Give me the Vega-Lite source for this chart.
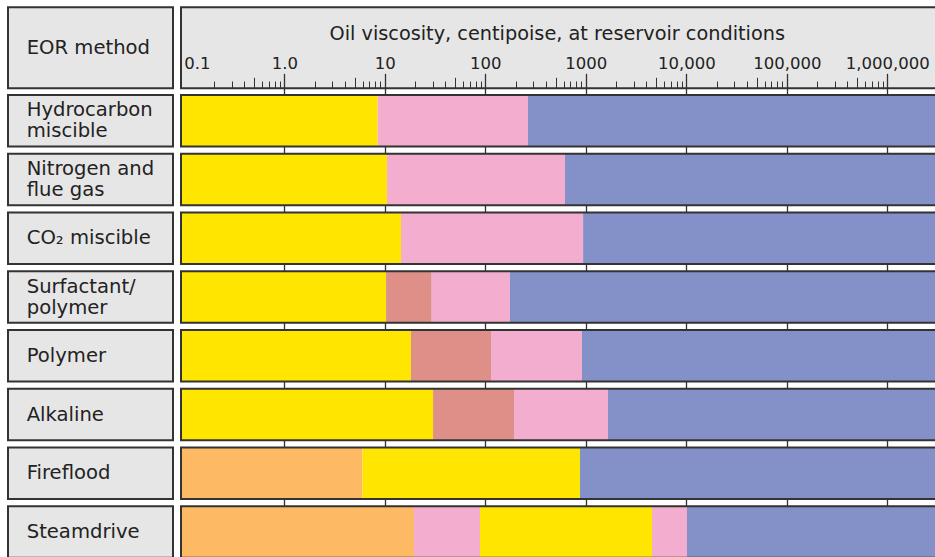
{
  "$schema": "https://vega.github.io/schema/vega-lite/v6.json",
  "width": 935,
  "height": 557,
  "autosize": {"type": "none"},
  "padding": 0,
  "background": "white",
  "config": {
    "view": {"stroke": null},
    "text": {"font": "DejaVu Sans", "color": "#222222"},
    "axis": {"labelFont": "DejaVu Sans"}
  },
  "datasets": {
    "header": [
      {"section": "header", "left": "EOR method", "title": "Oil viscosity, centipoise, at reservoir conditions"}
    ],
    "methods": [
      {"method": "Hydrocarbon miscible", "label": "Hydrocarbon\nmiscible", "lines": 2},
      {"method": "Nitrogen and flue gas", "label": "Nitrogen and\nflue gas", "lines": 2},
      {"method": "CO2 miscible", "label": "CO₂ miscible", "lines": 1},
      {"method": "Surfactant/polymer", "label": "Surfactant/\npolymer", "lines": 2},
      {"method": "Polymer", "label": "Polymer", "lines": 1},
      {"method": "Alkaline", "label": "Alkaline", "lines": 1},
      {"method": "Fireflood", "label": "Fireflood", "lines": 1},
      {"method": "Steamdrive", "label": "Steamdrive", "lines": 1}
    ],
    "segments": [
      {"method": "Hydrocarbon miscible", "start": 0.0938, "end": 8.5, "rating": "Preferred"},
      {"method": "Hydrocarbon miscible", "start": 8.5, "end": 266, "rating": "More difficult"},
      {"method": "Hydrocarbon miscible", "start": 266, "end": 100000000, "rating": "Not feasible"},
      {"method": "Nitrogen and flue gas", "start": 0.0938, "end": 10.5, "rating": "Preferred"},
      {"method": "Nitrogen and flue gas", "start": 10.5, "end": 621, "rating": "More difficult"},
      {"method": "Nitrogen and flue gas", "start": 621, "end": 100000000, "rating": "Not feasible"},
      {"method": "CO2 miscible", "start": 0.0938, "end": 14.5, "rating": "Preferred"},
      {"method": "CO2 miscible", "start": 14.5, "end": 940, "rating": "More difficult"},
      {"method": "CO2 miscible", "start": 940, "end": 100000000, "rating": "Not feasible"},
      {"method": "Surfactant/polymer", "start": 0.0938, "end": 10.3, "rating": "Preferred"},
      {"method": "Surfactant/polymer", "start": 10.3, "end": 29.3, "rating": "Good"},
      {"method": "Surfactant/polymer", "start": 29.3, "end": 176, "rating": "More difficult"},
      {"method": "Surfactant/polymer", "start": 176, "end": 100000000, "rating": "Not feasible"},
      {"method": "Polymer", "start": 0.0938, "end": 18.2, "rating": "Preferred"},
      {"method": "Polymer", "start": 18.2, "end": 114, "rating": "Good"},
      {"method": "Polymer", "start": 114, "end": 916, "rating": "More difficult"},
      {"method": "Polymer", "start": 916, "end": 100000000, "rating": "Not feasible"},
      {"method": "Alkaline", "start": 0.0938, "end": 30.2, "rating": "Preferred"},
      {"method": "Alkaline", "start": 30.2, "end": 193, "rating": "Good"},
      {"method": "Alkaline", "start": 193, "end": 1663, "rating": "More difficult"},
      {"method": "Alkaline", "start": 1663, "end": 100000000, "rating": "Not feasible"},
      {"method": "Fireflood", "start": 0.0938, "end": 6.0, "rating": "Not required"},
      {"method": "Fireflood", "start": 6.0, "end": 875, "rating": "Preferred"},
      {"method": "Fireflood", "start": 875, "end": 100000000, "rating": "Not feasible"},
      {"method": "Steamdrive", "start": 0.0938, "end": 19.5, "rating": "Not required"},
      {"method": "Steamdrive", "start": 19.5, "end": 88.6, "rating": "More difficult"},
      {"method": "Steamdrive", "start": 88.6, "end": 4560, "rating": "Preferred"},
      {"method": "Steamdrive", "start": 4560, "end": 10160, "rating": "More difficult"},
      {"method": "Steamdrive", "start": 10160, "end": 100000000, "rating": "Not feasible"}
    ]
  },
  "resolve": {
    "scale": {"x": "independent", "y": "independent", "color": "independent"},
    "axis": {"x": "independent", "y": "independent"}
  },
  "layer": [
    {
      "data": {"name": "header"},
      "layer": [
        {
          "mark": {"type": "rect", "fill": "#e6e6e6", "stroke": "#333333", "strokeWidth": 2},
          "encoding": {
            "x": {"datum": 0, "type": "quantitative", "scale": {"domain": [0, 1], "range": [8, 173]}, "axis": null},
            "x2": {"datum": 1},
            "y": {"field": "section", "type": "nominal", "scale": {"domain": ["header"], "range": [7.3, 88.3], "paddingInner": 0, "paddingOuter": 0}, "axis": null}
          }
        },
        {
          "mark": {"type": "text", "align": "left", "baseline": "middle", "dx": 18.7, "fontSize": 19.6},
          "encoding": {
            "x": {"datum": 0, "type": "quantitative"},
            "y": {"field": "section", "type": "nominal"},
            "text": {"field": "left"}
          }
        }
      ]
    },
    {
      "data": {"name": "methods"},
      "layer": [
        {
          "mark": {"type": "rect", "fill": "#e6e6e6", "stroke": "#333333", "strokeWidth": 2},
          "encoding": {
            "x": {"datum": 0, "type": "quantitative", "scale": {"domain": [0, 1], "range": [8, 173]}, "axis": null},
            "x2": {"datum": 1},
            "y": {
              "field": "method", "type": "nominal",
              "scale": {
                "domain": ["Hydrocarbon miscible", "Nitrogen and flue gas", "CO2 miscible", "Surfactant/polymer", "Polymer", "Alkaline", "Fireflood", "Steamdrive"],
                "range": [95, 557.82], "paddingInner": 0.12355, "paddingOuter": 0
              },
              "axis": null
            }
          }
        },
        {
          "transform": [{"filter": "datum.lines == 1"}],
          "mark": {"type": "text", "align": "left", "baseline": "middle", "dx": 18.7, "fontSize": 19.6},
          "encoding": {
            "x": {"datum": 0, "type": "quantitative"},
            "y": {"field": "method", "type": "nominal"},
            "text": {"field": "label"}
          }
        },
        {
          "transform": [{"filter": "datum.lines == 2"}],
          "mark": {"type": "text", "align": "left", "baseline": "middle", "dx": 18.7, "dy": -10.5, "fontSize": 19.6, "lineBreak": "\n", "lineHeight": 21},
          "encoding": {
            "x": {"datum": 0, "type": "quantitative"},
            "y": {"field": "method", "type": "nominal"},
            "text": {"field": "label"}
          }
        }
      ]
    },
    {
      "data": {"name": "header"},
      "mark": {"type": "rect", "fill": "#e6e6e6"},
      "encoding": {
        "x": {
          "datum": 0.0938, "type": "quantitative",
          "scale": {"type": "log", "domain": [0.001483, 2983000], "nice": false},
          "axis": {
            "orient": "top", "offset": -88.3,
            "values": [0.5, 5, 50, 500, 5000, 50000, 500000],
            "labels": false, "domain": false, "grid": false, "title": null,
            "tickSize": 11, "tickWidth": 1, "tickColor": "#333333", "zindex": 1
          }
        },
        "x2": {"datum": 100000000},
        "y": {"field": "section", "type": "nominal", "scale": {"domain": ["header"], "range": [7.3, 88.3], "paddingInner": 0, "paddingOuter": 0}, "axis": null}
      }
    },
    {
      "data": {"name": "header"},
      "mark": {"type": "rect", "fillOpacity": 0, "fill": "#e6e6e6", "stroke": "#333333", "strokeWidth": 2},
      "encoding": {
        "x": {
          "datum": 0.0938, "type": "quantitative",
          "scale": {"type": "log", "domain": [0.001483, 2983000], "nice": false},
          "axis": {
            "orient": "top", "offset": -88.3,
            "values": [0.1, 1, 10, 100, 1000, 10000, 100000, 1000000],
            "domain": false, "grid": false, "title": null,
            "tickSize": 15, "tickWidth": 1.3, "tickColor": "#333333",
            "tickOpacity": {"condition": {"test": "datum.value < 0.5", "value": 0}, "value": 1},
            "labelExpr": "datum.value < 0.5 ? '0.1' : datum.value < 5 ? '1.0' : datum.value < 50 ? '10' : datum.value < 500 ? '100' : datum.value < 5000 ? '1000' : datum.value < 50000 ? '10,000' : datum.value < 500000 ? '100,000' : '1,000,000'",
            "labelAlign": {"condition": {"test": "datum.value < 0.5", "value": "left"}, "value": "center"},
            "labelFontSize": 16.5, "labelColor": "#222222", "labelPadding": 2,
            "labelFlush": false, "labelOverlap": false, "labelBound": false,
            "zindex": 1
          }
        },
        "x2": {"datum": 100000000},
        "y": {"field": "section", "type": "nominal", "scale": {"domain": ["header"], "range": [7.3, 88.3], "paddingInner": 0, "paddingOuter": 0}, "axis": null}
      }
    },
    {
      "data": {"name": "header"},
      "mark": {"type": "text", "align": "center", "baseline": "alphabetic", "dy": -7.8, "fontSize": 19.3},
      "encoding": {
        "x": {
          "datum": 520, "type": "quantitative",
          "scale": {"type": "log", "domain": [0.001483, 2983000], "nice": false},
          "axis": {
            "orient": "top", "offset": -88.3,
            "values": [0.2, 0.3, 0.4, 0.6, 0.7, 0.8, 0.9, 2, 3, 4, 6, 7, 8, 9, 20, 30, 40, 60, 70, 80, 90, 200, 300, 400, 600, 700, 800, 900, 2000, 3000, 4000, 6000, 7000, 8000, 9000, 20000, 30000, 40000, 60000, 70000, 80000, 90000, 200000, 300000, 400000, 600000, 700000, 800000, 900000],
            "labels": false, "domain": false, "grid": false, "title": null,
            "tickSize": 7.3, "tickWidth": 1, "tickColor": "#333333", "zindex": 1
          }
        },
        "y": {"field": "section", "type": "nominal", "scale": {"domain": ["header"], "range": [7.3, 88.3], "paddingInner": 0, "paddingOuter": 0}, "axis": null},
        "text": {"field": "title"}
      }
    },
    {
      "layer": [
        {
          "data": {"name": "segments"},
          "mark": {"type": "rect"},
          "encoding": {
            "x": {
              "field": "start", "type": "quantitative",
              "scale": {"type": "log", "domain": [0.001483, 2983000], "nice": false},
              "axis": {
                "orient": "bottom", "offset": -468.7,
                "values": [1, 10, 100, 1000, 10000, 100000, 1000000],
                "labels": false, "domain": false, "grid": false, "title": null,
                "tickSize": 470, "tickWidth": 1.3, "tickColor": "#333333", "zindex": 0
              }
            },
            "x2": {"field": "end"},
            "y": {
              "field": "method", "type": "nominal",
              "scale": {
                "domain": ["Hydrocarbon miscible", "Nitrogen and flue gas", "CO2 miscible", "Surfactant/polymer", "Polymer", "Alkaline", "Fireflood", "Steamdrive"],
                "range": [95, 557.82], "paddingInner": 0.12355, "paddingOuter": 0
              },
              "axis": null
            },
            "color": {
              "field": "rating", "type": "nominal",
              "scale": {
                "domain": ["Preferred", "Good", "More difficult", "Not feasible", "Not required"],
                "range": ["#ffe600", "#de9088", "#f3adcf", "#8491c8", "#fdb963"]
              },
              "legend": null
            }
          }
        },
        {
          "data": {"name": "methods"},
          "mark": {"type": "rect", "fillOpacity": 0, "fill": "#ffffff", "stroke": "#333333", "strokeWidth": 2},
          "encoding": {
            "x": {"datum": 0.0938, "type": "quantitative"},
            "x2": {"datum": 100000000},
            "y": {"field": "method", "type": "nominal"}
          }
        }
      ]
    }
  ]
}
